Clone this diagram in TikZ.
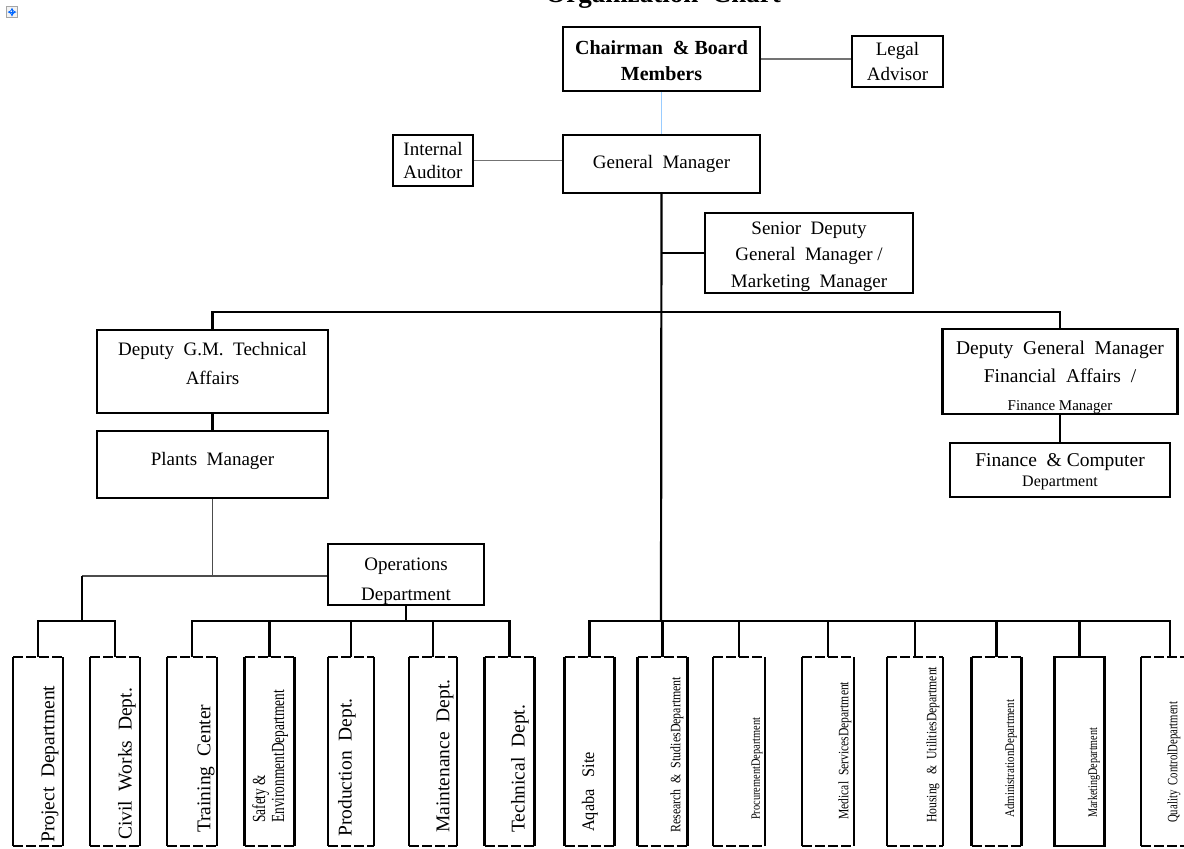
\documentclass[tikz,border=0pt]{standalone}
\usepackage{fontspec}
\setmainfont{Liberation Serif}
\usepackage{graphicx}
\usetikzlibrary{arrows}
\newcommand{\squeezed}[3]{\resizebox*{#1}{#2}{#3}}
\definecolor{boardblue}{RGB}{153,204,255}

\begin{document}
\begin{tikzpicture}[x=1pt,y=-1pt,
  box_node/.style={draw,line width=2.2pt,inner sep=0pt,align=center,font=\fontsize{19}{27}\selectfont},
  dept_node/.style={inner sep=0pt,outer sep=0pt,minimum width=50pt,minimum height=189pt},
  vlabel/.style={rotate=90,anchor=west,inner sep=0pt,font=\fontsize{19.5}{22}\selectfont},
  link/.style={line width=2.2pt},
  gray_link/.style={line width=1.8pt,black!70},
  thin_link/.style={line width=1.3pt,black!55}]

		\useasboundingbox (0,0) rectangle (1184,849);
		\fill[white] (0,0) rectangle (1184,849);

		\node[font=\bfseries\fontsize{27}{27}\selectfont,anchor=base] (title) at (663,2) {Organization\ \ Chart};
		\node[draw=black!35,fill=black!5,line width=0.5pt,minimum size=11pt,inner sep=0pt] (move_icon) at (12,12) {};
		\draw[blue!60!cyan,line width=0.7pt,<->,>=stealth] ([xshift=-4.5pt]move_icon.center) -- ([xshift=4.5pt]move_icon.center);
		\draw[blue!60!cyan,line width=0.7pt,<->,>=stealth] ([yshift=-4.5pt]move_icon.center) -- ([yshift=4.5pt]move_icon.center);

		% top of the chart
		\node[box_node,minimum width=197pt,minimum height=64pt,font=\bfseries\fontsize{20}{26}\selectfont] (chairman) at (661.5,59) {\rule{0pt}{17pt}Chairman\ \ \& Board\\Members};
		\node[box_node,minimum width=91pt,minimum height=51pt,font=\fontsize{19}{25}\selectfont] (legal) at (897.5,61.5) {Legal\\Advisor};
		\node[box_node,minimum width=197pt,minimum height=58pt] (gm) at (661.5,164) {General\ \ Manager};
		\node[box_node,minimum width=80pt,minimum height=51pt,align=left,font=\fontsize{19}{23}\selectfont] (auditor) at (433,160.5) {Internal\\Auditor};
		\node[box_node,minimum width=208pt,minimum height=80pt,font=\fontsize{19}{26.5}\selectfont] (senior) at (809,253) {\rule{0pt}{20pt}Senior\ \ Deputy\\General\ \ Manager /\\Marketing\ \ Manager};

		% deputies
		\node[box_node,minimum width=231pt,minimum height=83pt,font=\fontsize{19}{29}\selectfont] (deptech) at (212.5,371.5) {Deputy\ \ G.M.\ \ Technical\\Affairs\\[-12pt]\mbox{}};
		\node[box_node,minimum width=231pt,minimum height=67pt] (plants) at (212.5,464.5) {\raisebox{11pt}{Plants\ \ Manager}};
		\node[box_node,minimum width=235pt,minimum height=83pt,font=\fontsize{19.5}{28}\selectfont] (depfin) at (1060,371.5) {\rule{0pt}{26pt}Deputy\ \ General\ \ Manager\\Financial\ \ Affairs\ \ /\\{\fontsize{15}{27}\selectfont Finance Manager}};
		\node[box_node,minimum width=220pt,minimum height=54pt,font=\fontsize{19.5}{20}\selectfont] (fincomp) at (1060,470) {\rule{0pt}{17pt}Finance\ \ \& Computer\\{\fontsize{16}{20}\selectfont Department}};
		\node[box_node,minimum width=156pt,minimum height=61pt,font=\fontsize{19}{30}\selectfont] (ops) at (406,574.5) {\rule{0pt}{26pt}Operations\\Department};

		% departments
		\node[dept_node] (project) at (38,751.5) {};
		\node[dept_node] (civil) at (115,751.5) {};
		\node[dept_node] (training) at (192,751.5) {};
		\node[dept_node] (safety) at (269.5,751.5) {};
		\node[dept_node,minimum width=46pt] (production) at (351,751.5) {};
		\node[dept_node,minimum width=48pt] (maintenance) at (433,751.5) {};
		\node[dept_node] (technical) at (509.5,751.5) {};
		\node[dept_node] (aqaba) at (589.5,751.5) {};
		\node[dept_node] (research) at (662.5,751.5) {};
		\node[dept_node,minimum width=52pt] (procure) at (739,751.5) {};
		\node[dept_node,minimum width=52pt] (medical) at (828,751.5) {};
		\node[dept_node,minimum width=56pt] (housing) at (915,751.5) {};
		\node[dept_node] (admin) at (996.5,751.5) {};
		\node[dept_node,draw,line width=2.2pt] (marketing) at (1079.5,751.5) {};
		\node[dept_node,minimum width=58pt] (quality) at (1170,751.5) {};

		% solid sides, broken top and bottom
		\foreach \n in {project,civil,training,safety,production,maintenance,technical,aqaba,research,procure,medical,housing,admin,quality} {
			\draw[line width=2.2pt] (\n.north west) -- (\n.south west) (\n.north east) -- (\n.south east);
			\draw[line width=2.2pt,dash pattern=on 10pt off 3pt] (\n.north west) -- (\n.north east) (\n.south west) -- (\n.south east);
		}

		\node[vlabel] (project_text) at (50,843) {Project\ \ Department};
		\node[vlabel] (civil_text) at (127,840) {Civil\ \ Works\ \ Dept.};
		\node[vlabel] (training_text) at (206,833) {Training\ \ Center};
		\node[vlabel] (safety_text) at (270,823) {\squeezed{133pt}{36pt}{\shortstack[l]{Safety \&\\EnvironmentDepartment}}};
		\node[vlabel] (production_text) at (347,837) {Production\ \ Dept.};
		\node[vlabel] (maintenance_text) at (445,833) {Maintenance\ \ Dept.};
		\node[vlabel] (technical_text) at (520,833) {Technical\ \ Dept.};
		\node[vlabel] (aqaba_text) at (590,832) {\squeezed{80pt}{16pt}{Aqaba\ \ \ Site}};
		\node[vlabel] (research_text) at (677,833) {\squeezed{156pt}{13pt}{Research\ \ \&\ \ StudiesDepartment}};
		\node[vlabel] (procure_text) at (757,820) {\squeezed{102pt}{11pt}{ProcurementDepartment}};
		\node[vlabel] (medical_text) at (845,820) {\squeezed{138pt}{13pt}{Medical\ \ ServicesDepartment}};
		\node[vlabel] (housing_text) at (933,823) {\squeezed{156pt}{13pt}{Housing\ \ \ \&\ \ UtilitiesDepartment}};
		\node[vlabel] (admin_text) at (1011,818) {\squeezed{118pt}{12pt}{AdministrationDepartment}};
		\node[vlabel] (marketing_text) at (1094,818) {\squeezed{90pt}{12pt}{MarketingDepartment}};
		\node[vlabel] (quality_text) at (1174,823) {\squeezed{121pt}{13pt}{Quality\ \ ControlDepartment}};

		% connectors
		\coordinate (bus_top) at (661,312);
		\coordinate (bus_low) at (661,621);
		\coordinate (ops_split) at (82,576);
		\coordinate (bus_left) at (82,621);

		\draw[thin_link] (chairman.east) -- (legal.west |- chairman.east);
		\draw[thin_link] (auditor.east) -- (gm.west |- auditor.east);
		\draw[line width=1.8pt,boardblue] (chairman.south) -- (gm.north);
		\draw[link] (gm.south) -- (bus_low);
		\draw[link] (senior.west) -- (senior.west -| gm.south);
		\draw[link] (deptech.north) |- (bus_top) -| (depfin.north);
		\draw[link] (deptech) -- (plants);
		\draw[link] (depfin) -- (fincomp);
		\draw[gray_link] (plants.south) -- (plants.south |- ops_split);
		\draw[gray_link] (ops_split) -- (ops.west |- ops_split);
		\draw[link] (ops_split) -- (bus_left);
		\draw[link] (project.north) |- (bus_left) -| (civil.north);
		\draw[link] (training.north) |- (ops.south |- bus_left) -| (technical.north);
		\draw[link] (ops.south) -- (ops.south |- bus_left);
		\draw[link] (aqaba.north) |- (bus_low) -| (quality.north);
		\foreach \n in {safety,production,maintenance,research,procure,medical,housing,admin,marketing}
			\draw[link] (\n.north) -- (\n.north |- bus_low);
		\end{tikzpicture}
\end{document}
